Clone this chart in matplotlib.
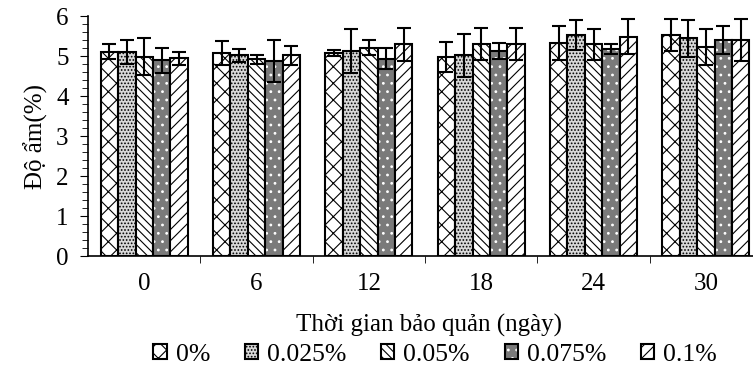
import numpy as np
import matplotlib.pyplot as plt
from matplotlib.legend_handler import HandlerTuple
from matplotlib.ticker import MultipleLocator

plt.rcParams['font.family'] = ['Liberation Serif', 'DejaVu Serif']
plt.rcParams['hatch.linewidth'] = 0.8

# --- dữ liệu ---
days = ['0', '6', '12', '18', '24', '30']
series = ['0%', '0.025%', '0.05%', '0.075%', '0.1%']

m_0 = [5.11, 5.07, 5.07, 4.98, 5.33, 5.52]
m_0025 = [5.11, 5.02, 5.13, 5.02, 5.52, 5.44]
m_005 = [4.98, 4.92, 5.21, 5.31, 5.29, 5.23]
m_0075 = [4.90, 4.88, 4.94, 5.13, 5.17, 5.40]
m_01 = [4.95, 5.02, 5.30, 5.31, 5.48, 5.40]

e_0 = [0.18, 0.30, 0.07, 0.38, 0.42, 0.40]
e_0025 = [0.30, 0.16, 0.54, 0.53, 0.37, 0.45]
e_005 = [0.46, 0.11, 0.19, 0.40, 0.38, 0.44]
e_0075 = [0.31, 0.53, 0.26, 0.20, 0.13, 0.35]
e_01 = [0.16, 0.23, 0.41, 0.40, 0.44, 0.52]

means = [m_0, m_0025, m_005, m_0075, m_01]
errs = [e_0, e_0025, e_005, e_0075, e_01]

# kiểu tô: (màu nền, màu hatch, hatch)
styles = [
    ('white', 'black', 'xx'),
    ('#d8d8d8', 'black', '.....'),
    ('white', 'black', '\\\\\\\\'),
    ('#7a7a7a', 'white', '..'),
    ('white', 'black', '///'),
]

fs = 18

fig = plt.figure(figsize=(7.53, 3.74), dpi=100)
ax = fig.add_axes([0.117, 0.315, 0.895, 0.642])

x = np.arange(len(days))
w = 0.155
handles = []
for i, (m, e) in enumerate(zip(means, errs)):
    pos = x + (i - 2) * w
    fc, hc, h = styles[i]
    under = ax.bar(pos, m, w, color=fc, edgecolor=hc, hatch=h, linewidth=0)
    over = ax.bar(pos, m, w, fill=False, edgecolor='black', linewidth=1.5)
    ax.errorbar(pos, m, yerr=e, fmt='none', ecolor='black', elinewidth=1.5,
                capsize=5, capthick=1.5)
    handles.append((under[0], over[0]))

ax.set_xlim(-0.5, 5.5)
ax.set_ylim(0, 6)
ax.set_xticks(x)
ax.set_xticklabels(days)
ax.set_xticks(np.arange(0.5, 5.5, 1), minor=True)
ax.tick_params(axis='x', which='major', length=0, pad=12, labelsize=fs)
ax.tick_params(axis='x', which='minor', length=5, direction='out')
ax.yaxis.set_major_locator(MultipleLocator(1))
ax.yaxis.set_minor_locator(MultipleLocator(0.2))
ax.tick_params(axis='y', which='major', length=6, labelsize=fs, direction='out', pad=8)
ax.tick_params(axis='y', which='minor', length=4, direction='out')
for s in ['top', 'right']:
    ax.spines[s].set_visible(False)
ax.spines['left'].set_linewidth(1.2)
ax.spines['bottom'].set_linewidth(1.2)

ax.set_ylabel('Độ ẩm(%)', fontsize=fs, labelpad=6)
fig.text(0.57, 0.131, 'Thời gian bảo quản (ngày)', fontsize=fs, ha='center', va='center')

fig.legend(handles, series, loc='center', bbox_to_anchor=(0.578, 0.051), ncol=5,
           frameon=False, fontsize=18.5, handlelength=0.52, handleheight=0.52,
           handletextpad=0.35, columnspacing=1.35, borderpad=0,
           handler_map={tuple: HandlerTuple(ndivide=1, pad=0)})

fig.savefig('out.png', dpi=100)
